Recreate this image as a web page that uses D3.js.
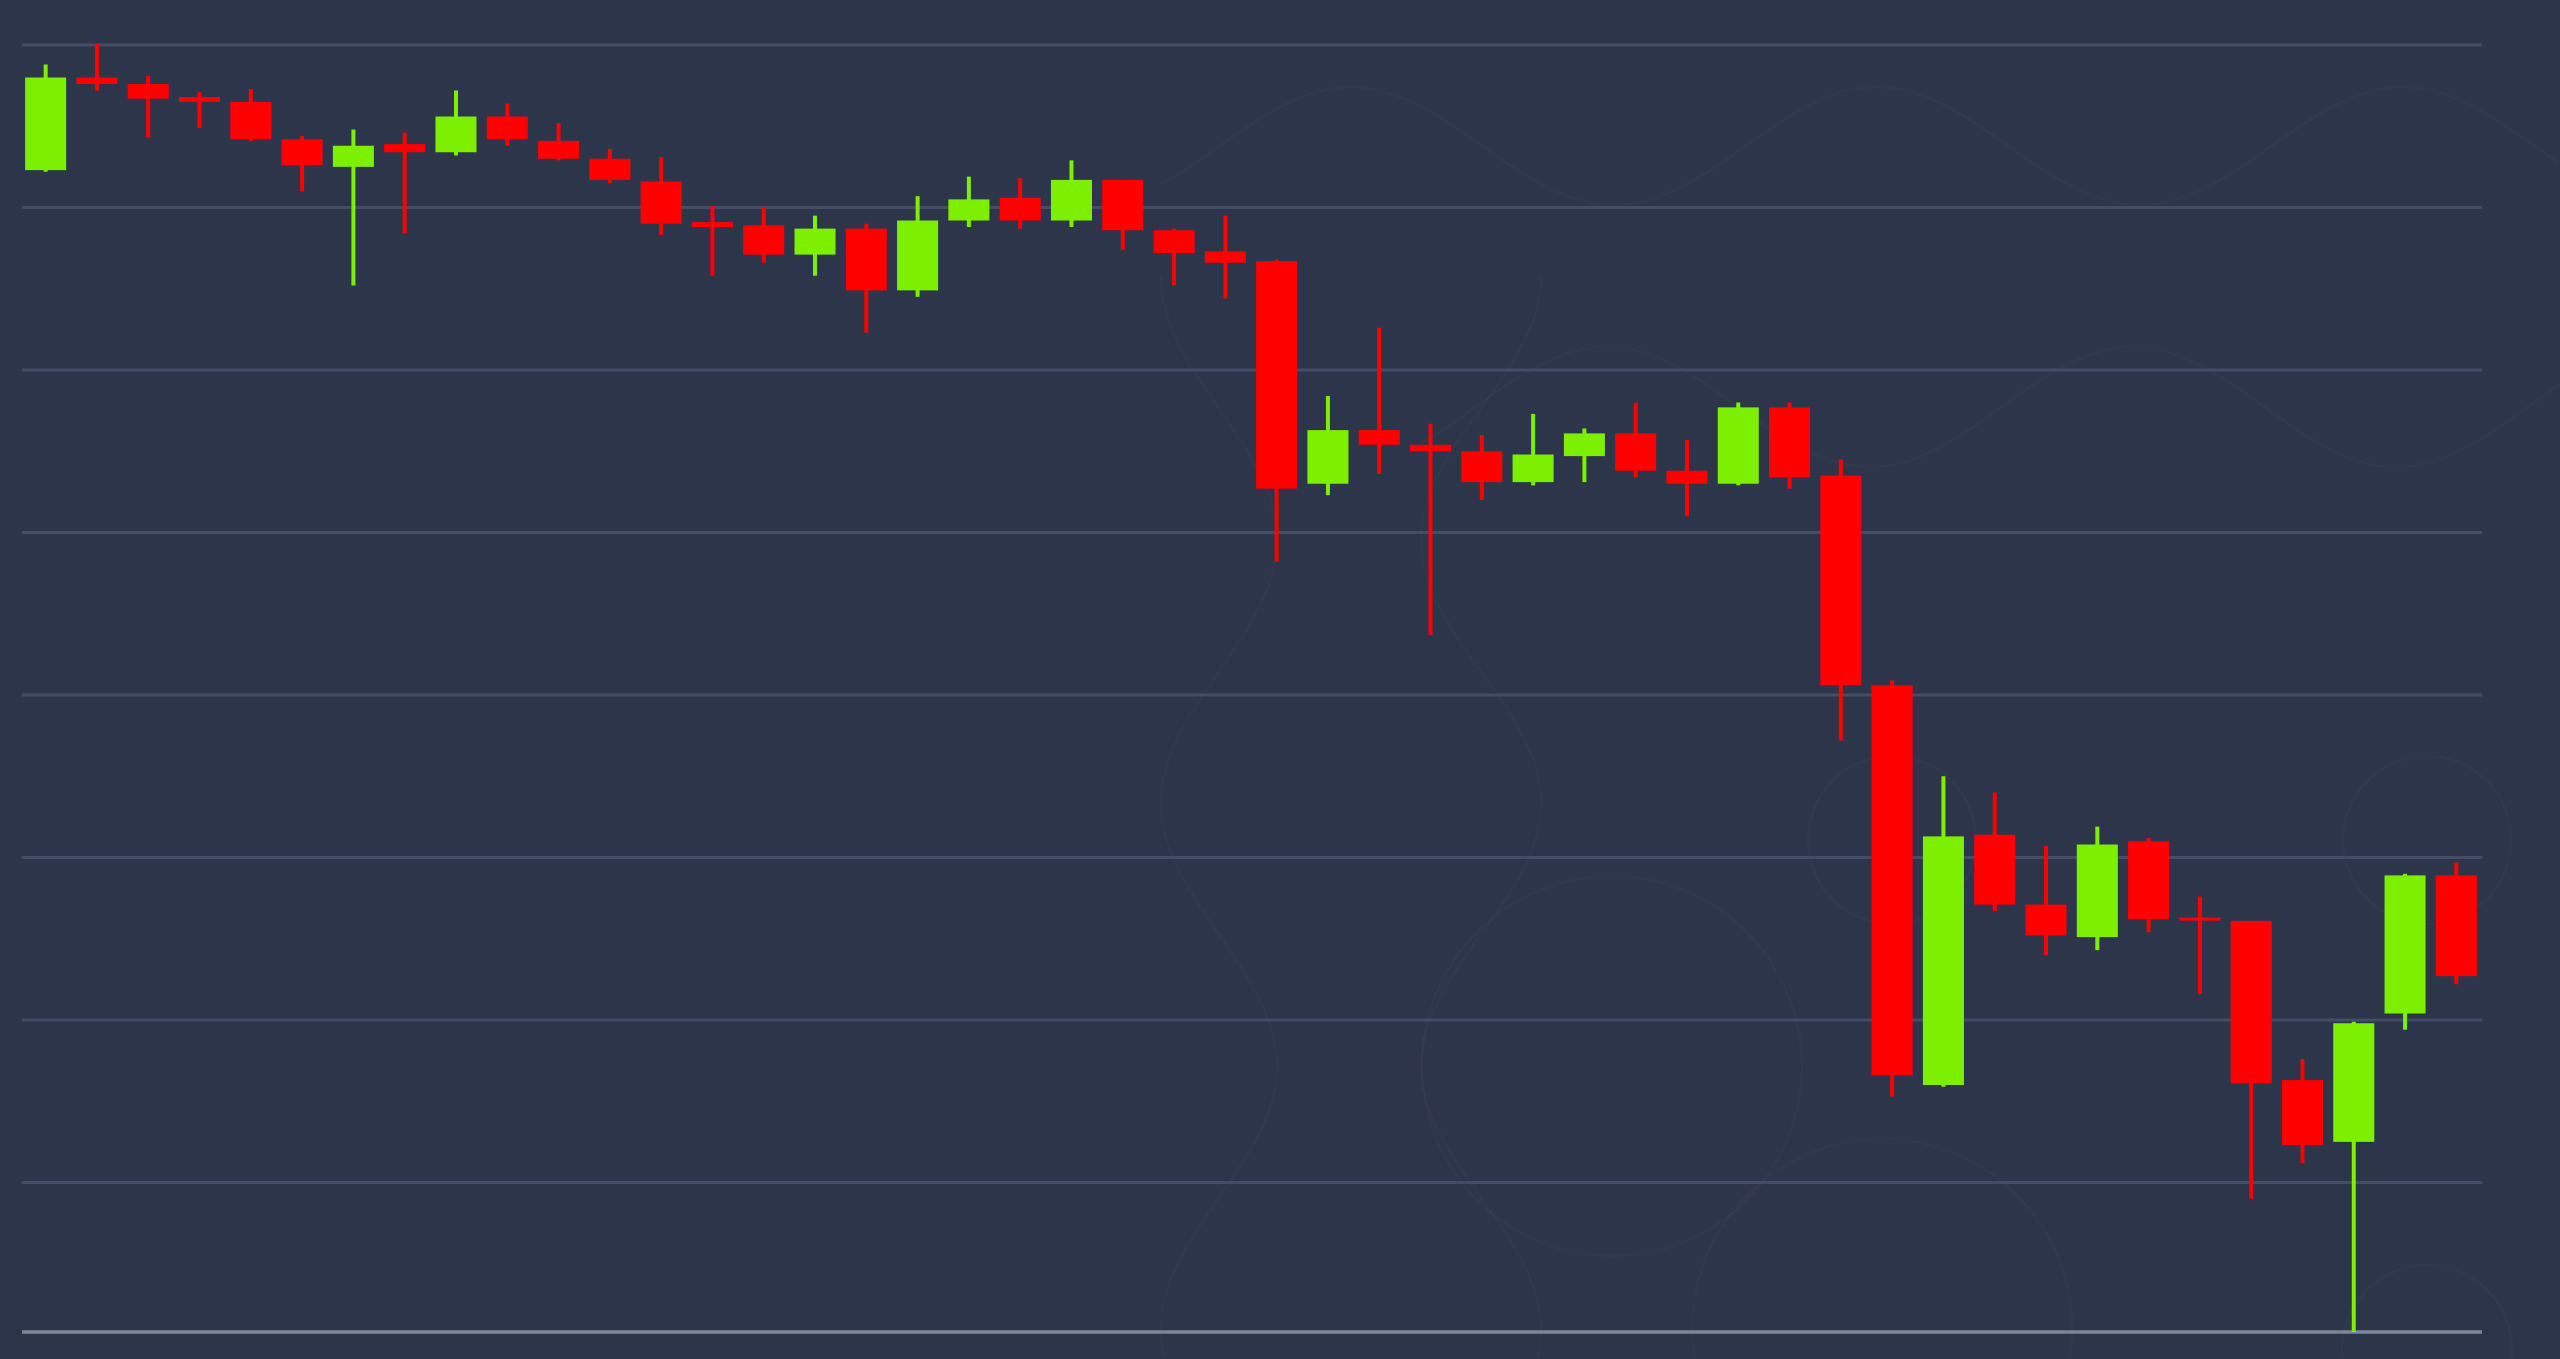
<!DOCTYPE html>
<html>
<head>
<meta charset="utf-8">
<script src="https://cdn.jsdelivr.net/npm/d3@7"></script>
<style>
  html, body { margin: 0; padding: 0; background: #2d354b; overflow: hidden; }
  svg { display: block; }
</style>
</head>
<body>
<svg id="chart" width="2560" height="1359"></svg>
<script>
// ---- data ----
const periods = ["P01","P02","P03","P04","P05","P06","P07","P08","P09","P10","P11","P12",
                 "P13","P14","P15","P16","P17","P18","P19","P20","P21","P22","P23","P24",
                 "P25","P26","P27","P28","P29","P30","P31","P32","P33","P34","P35","P36",
                 "P37","P38","P39","P40","P41","P42","P43","P44","P45","P46","P47","P48"];
const openValues  = [7923,7980,7976,7968,7965,7942,7925,7939,7934,7956,7941,7930,
                     7916,7891,7889,7871,7887,7849,7892,7906,7892,7917,7886,7873,
                     7867,7730,7763,7754,7750,7731,7747,7761,7738,7730,7777,7735,
                     7606,7360,7514,7471,7451,7510,7463,7461,7363,7325,7404,7489];
const highValues  = [7988,8001,7981,7971,7973,7944,7948,7946,7972,7964,7952,7936,
                     7931,7901,7900,7895,7890,7907,7919,7918,7929,7917,7887,7895,
                     7868,7784,7826,7767,7760,7773,7764,7780,7757,7780,7780,7745,
                     7609,7550,7540,7507,7519,7512,7476,7461,7376,7399,7490,7497];
const lowValues   = [7922,7972,7943,7949,7941,7910,7852,7884,7932,7938,7929,7915,
                     7883,7858,7866,7858,7823,7845,7888,7887,7888,7874,7852,7844,
                     7682,7723,7736,7637,7720,7729,7731,7734,7710,7729,7727,7572,
                     7353,7359,7467,7440,7443,7454,7416,7290,7312,7208,7394,7422];
const closeValues = [7980,7976,7967,7965,7942,7926,7938,7934,7956,7942,7930,7917,
                     7890,7888,7871,7887,7849,7892,7905,7892,7917,7886,7872,7866,
                     7727,7763,7754,7750,7731,7748,7761,7738,7730,7777,7734,7606,
                     7366,7513,7471,7452,7508,7462,7462,7361,7323,7398,7489,7427];
const gridTicks = [7300,7400,7500,7600,7700,7800,7900,8000];

// ---- styling ----
const UP = "#7cf000", DOWN = "#ff0000";
const BG = "#2d354b", GRID = "#444d65", AXIS = "#7d8599";

const W = 2560, H = 1359;
const left = 20, right = 2482;

const svg = d3.select("#chart");
svg.append("rect").attr("width", W).attr("height", H).attr("fill", BG);

// ---- faint background watermark (decoration only) ----
const deco = svg.append("g").attr("fill", "none")
  .attr("stroke", "rgba(255,255,255,0.018)").attr("stroke-width", 2.5);
const P = 526;
const hWave = (x0, x1, cy, amp, peakX) => d3.range(x0, x1 + 1, 6)
  .map(xx => [xx, cy - amp * Math.cos(2 * Math.PI * (xx - peakX) / P)]);
const vWave = (y0, y1, cx, amp, peakY) => d3.range(y0, y1 + 1, 6)
  .map(yy => [cx + amp * Math.cos(2 * Math.PI * (yy - peakY) / P), yy]);
const wl = d3.line().curve(d3.curveBasis);
[
  hWave(1160, 2560, 146, 59, 1351),
  hWave(1420, 2560, 407, 60, 1607),
  vWave(277, 1359, 1219, -58, 277),
  vWave(277, 1359, 1481, 60, 277)
].forEach(pts => deco.append("path").attr("d", wl(pts)));
[[1612,1066,190],[1882,1329,190],[2427,1350,85],[1892,840,84],[2427,840,84]]
  .forEach(c => deco.append("circle").attr("cx", c[0]).attr("cy", c[1]).attr("r", c[2]));

// ---- candles ----
const candles = periods.map((p, i) => ({
  p, o: openValues[i], h: highValues[i], l: lowValues[i], c: closeValues[i]
}));

const x = d3.scaleBand().domain(periods).range([left, right])
  .paddingInner(0.2).paddingOuter(0.1);
const y = d3.scaleLinear().domain([7200, 8000]).range([45 + 800 * 1.625, 45]);

// gridlines
svg.append("g").selectAll("line").data(gridTicks).join("line")
  .attr("x1", left + 2).attr("x2", right)
  .attr("y1", d => y(d)).attr("y2", d => y(d))
  .attr("stroke", GRID).attr("stroke-width", 3);

// bottom axis line at the lowest low
const yBottom = y(d3.min(lowValues));
svg.append("line")
  .attr("x1", left + 2).attr("x2", right)
  .attr("y1", yBottom).attr("y2", yBottom)
  .attr("stroke", AXIS).attr("stroke-width", 3.5);

const g = svg.append("g");
const cx = d => x(d.p) + x.bandwidth() / 2;
const col = d => d.c >= d.o ? UP : DOWN;

// wicks
g.selectAll("line.wick").data(candles).join("line").attr("class", "wick")
  .attr("x1", cx).attr("x2", cx)
  .attr("y1", d => y(d.h)).attr("y2", d => y(d.l))
  .attr("stroke", col).attr("stroke-width", 4);

// bodies
g.selectAll("rect.body").data(candles).join("rect").attr("class", "body")
  .attr("x", d => x(d.p))
  .attr("width", x.bandwidth())
  .attr("y", d => y(Math.max(d.o, d.c)))
  .attr("height", d => Math.max(3, Math.abs(y(d.o) - y(d.c))))
  .attr("fill", col);
</script>
</body>
</html>
